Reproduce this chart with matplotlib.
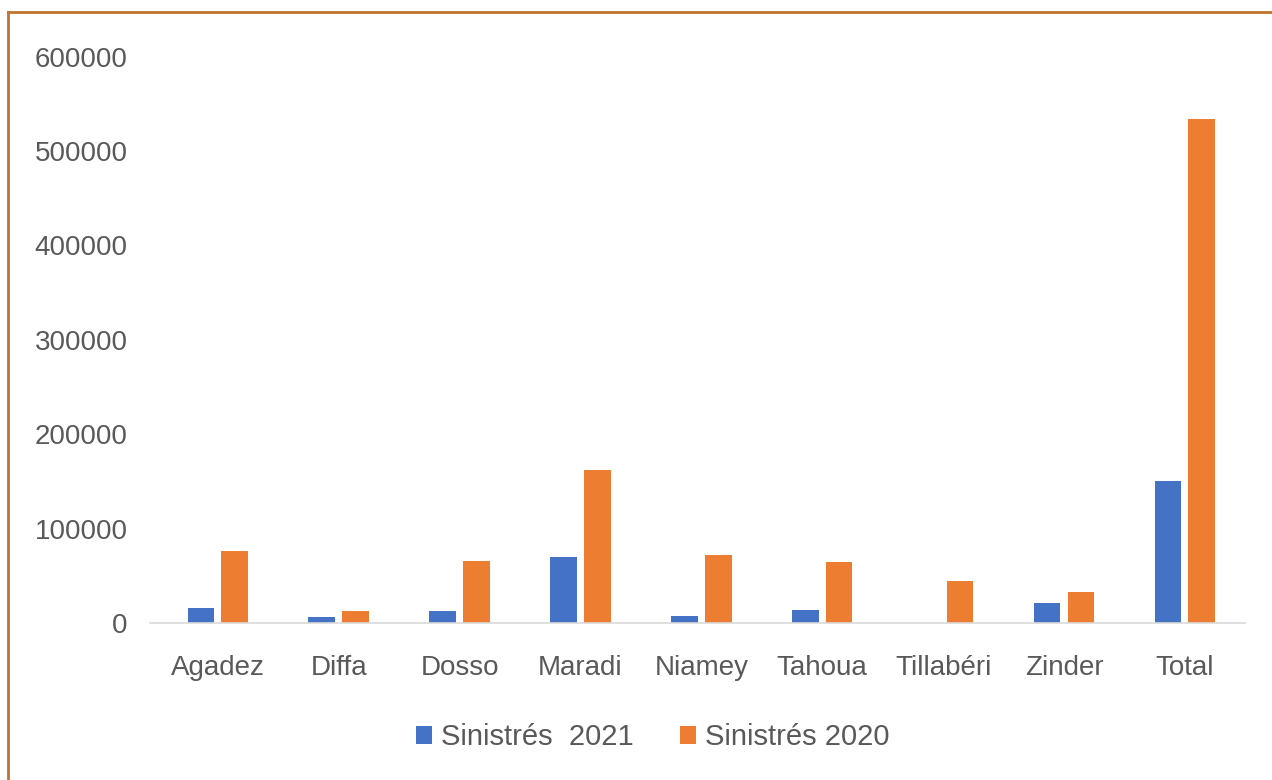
import numpy as np
import matplotlib.pyplot as plt
from matplotlib.lines import Line2D

plt.rcParams['font.family'] = ['Liberation Sans', 'DejaVu Sans']

# données
regions = ['Agadez', 'Diffa', 'Dosso', 'Maradi', 'Niamey', 'Tahoua', 'Tillabéri', 'Zinder', 'Total']
sinistres_2021 = [16000, 6000, 13000, 70000, 7500, 14000, 0, 21000, 150500]
sinistres_2020 = [76000, 13000, 66000, 162000, 72000, 65000, 44000, 33000, 534000]
yticks = [0, 100000, 200000, 300000, 400000, 500000, 600000]

blue = '#4472C4'
orange = '#ED7D31'
grey = '#595959'

fig = plt.figure(figsize=(12.72, 7.8), dpi=100)
ax = fig.add_axes([0.118, 0.2013, 0.861, 0.726])

x = np.arange(len(regions))
w = 0.22
ax.bar(x - 0.14, sinistres_2021, width=w, color=blue, label='Sinistrés  2021')
ax.bar(x + 0.14, sinistres_2020, width=w, color=orange, label='Sinistrés 2020')

ax.set_ylim(0, 600000)
ax.set_xlim(-0.56, 8.5)
ax.set_yticks(yticks)
ax.set_yticklabels([str(v) for v in yticks])
ax.set_xticks(x)
ax.set_xticklabels(regions)
ax.tick_params(axis='both', length=0, labelsize=20, colors=grey)
ax.tick_params(axis='y', pad=16)
ax.tick_params(axis='x', pad=23)
for s in ['top', 'right', 'left']:
    ax.spines[s].set_visible(False)
ax.spines['bottom'].set_color('#D9D9D9')
ax.spines['bottom'].set_linewidth(1.2)

fig.legend(loc='center', bbox_to_anchor=(0.513, 0.055), ncol=2, frameon=False,
           fontsize=21, labelcolor=grey, handlelength=0.55, handleheight=0.55,
           handletextpad=0.3, columnspacing=1.6)

# cadre orange (gauche et haut)
fig.add_artist(Line2D([0.0065, 0.0065], [0, 0.985], transform=fig.transFigure,
                      color='#C0722F', linewidth=2))
fig.add_artist(Line2D([0.0065, 1.0], [0.985, 0.985], transform=fig.transFigure,
                      color='#C0722F', linewidth=2))

fig.savefig('out.png', dpi=100, facecolor='white')
